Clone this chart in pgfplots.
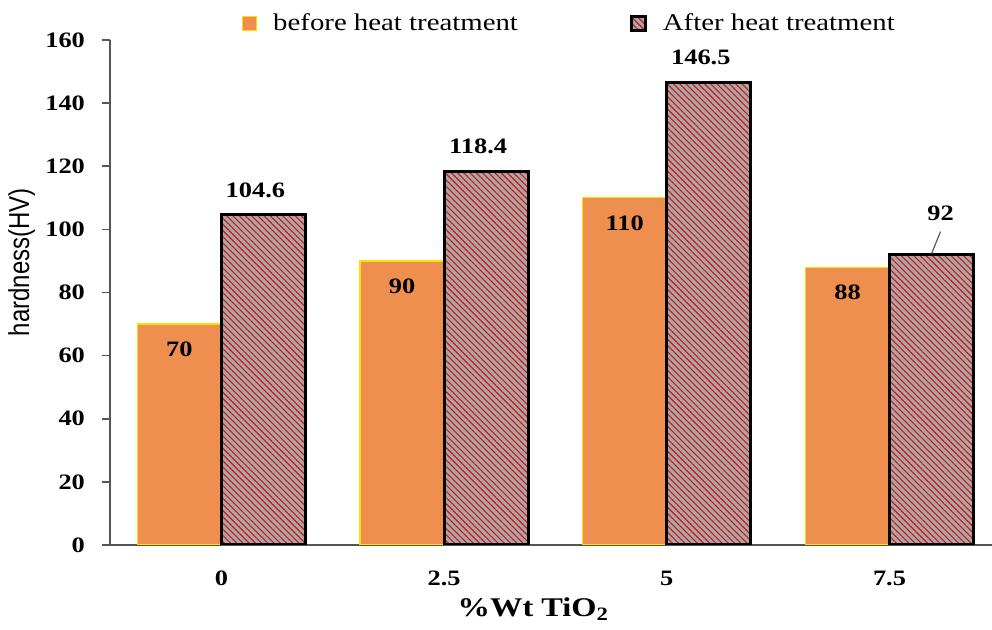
\documentclass[border=0pt]{standalone}
\usepackage{fontspec}
\setmainfont{Liberation Serif}[FakeStretch=1.2]
\newfontfamily\labsans{Liberation Sans}
\usepackage{graphicx}
\usepackage{pgfplots}
\pgfplotsset{compat=1.18}
\usetikzlibrary{patterns.meta}
\definecolor{barorange}{RGB}{238,143,80}
\definecolor{baredge}{RGB}{250,225,0}
\definecolor{hatchgray}{RGB}{172,166,166}
\definecolor{hatchred}{RGB}{200,25,25}
\definecolor{axgray}{RGB}{85,85,85}
\begin{document}
\begin{tikzpicture}
\begin{axis}[
  name=ax,
  scale only axis, width=441pt, height=252.5pt,
  xmin=-0.5, xmax=3.46, ymin=0, ymax=160,
  ybar=0pt, bar width=42pt,
  axis x line=bottom, axis y line=left,
  axis line style={-, draw=axgray, line width=1pt},
  xtick={0,1,2,3}, xticklabels={0,2.5,5,7.5},
  ytick={0,20,...,160},
  tick align=outside, major tick length=4pt,
  xtick style={draw=none},
  ytick style={draw=axgray, line width=0.8pt},
  /pgf/number format/assume math mode=true,
  ticklabel style={font=\fontsize{11}{13}\selectfont\bfseries},
  xticklabel style={yshift=-5.5pt},
  yticklabel style={xshift=-5pt},
  ylabel={\scalebox{1}[1.2]{\labsans\fontsize{12}{14}\selectfont hardness(HV)}},
  ylabel style={at={(axis description cs:-0.1,0.56)}, anchor=center},
  xlabel={\fontsize{13.5}{16}\selectfont\bfseries \%Wt TiO\textsubscript{2}},
  xlabel style={at={(axis description cs:0.48,-0.127)}, anchor=center},
  legend style={draw=none, fill=none, legend columns=2, at={(0.522,1.033)}, anchor=center,
    font=\fontsize{12}{14}\selectfont,
    /tikz/every even column/.append style={column sep=54pt}},
  legend image code/.code={\draw[#1] (0pt,-3.5pt) rectangle (7pt,3.5pt); \path (13pt,0pt);},
  nodes near coords,
]
\addplot[fill=barorange, draw=baredge, line width=0.6pt,
  nodes near coords style={anchor=center, yshift=-12.5pt, font=\fontsize{11}{13}\selectfont\bfseries, text=black}]
  coordinates {(0,70) (1,90) (2,110) (3,88)};
\addplot[preaction={fill=hatchgray}, pattern={Lines[angle=-45,distance=2.2pt,line width=0.55pt]}, pattern color=hatchred,
  draw=black, line width=1.5pt,
  nodes near coords style={anchor=center, yshift=12.5pt, xshift=-4pt, font=\fontsize{11}{13}\selectfont\bfseries, text=black},
  coordinate style/.condition={x==3}{xshift=8.5pt, yshift=8pt}]
  coordinates {(0,104.6) (1,118.4) (2,146.5) (3,92)};
\draw[gray!70!black, line width=0.6pt] ([xshift=21pt,yshift=0.5pt]axis cs:3,92) -- ([xshift=25.5pt,yshift=11.5pt]axis cs:3,92);
\legend{before heat treatment, After heat treatment}
\end{axis}
\pgfresetboundingbox
\path[use as bounding box] ([shift={(-55pt,-42.5pt)}]ax.south west) rectangle ([shift={(0pt,20pt)}]ax.north east);
\end{tikzpicture}
\end{document}
